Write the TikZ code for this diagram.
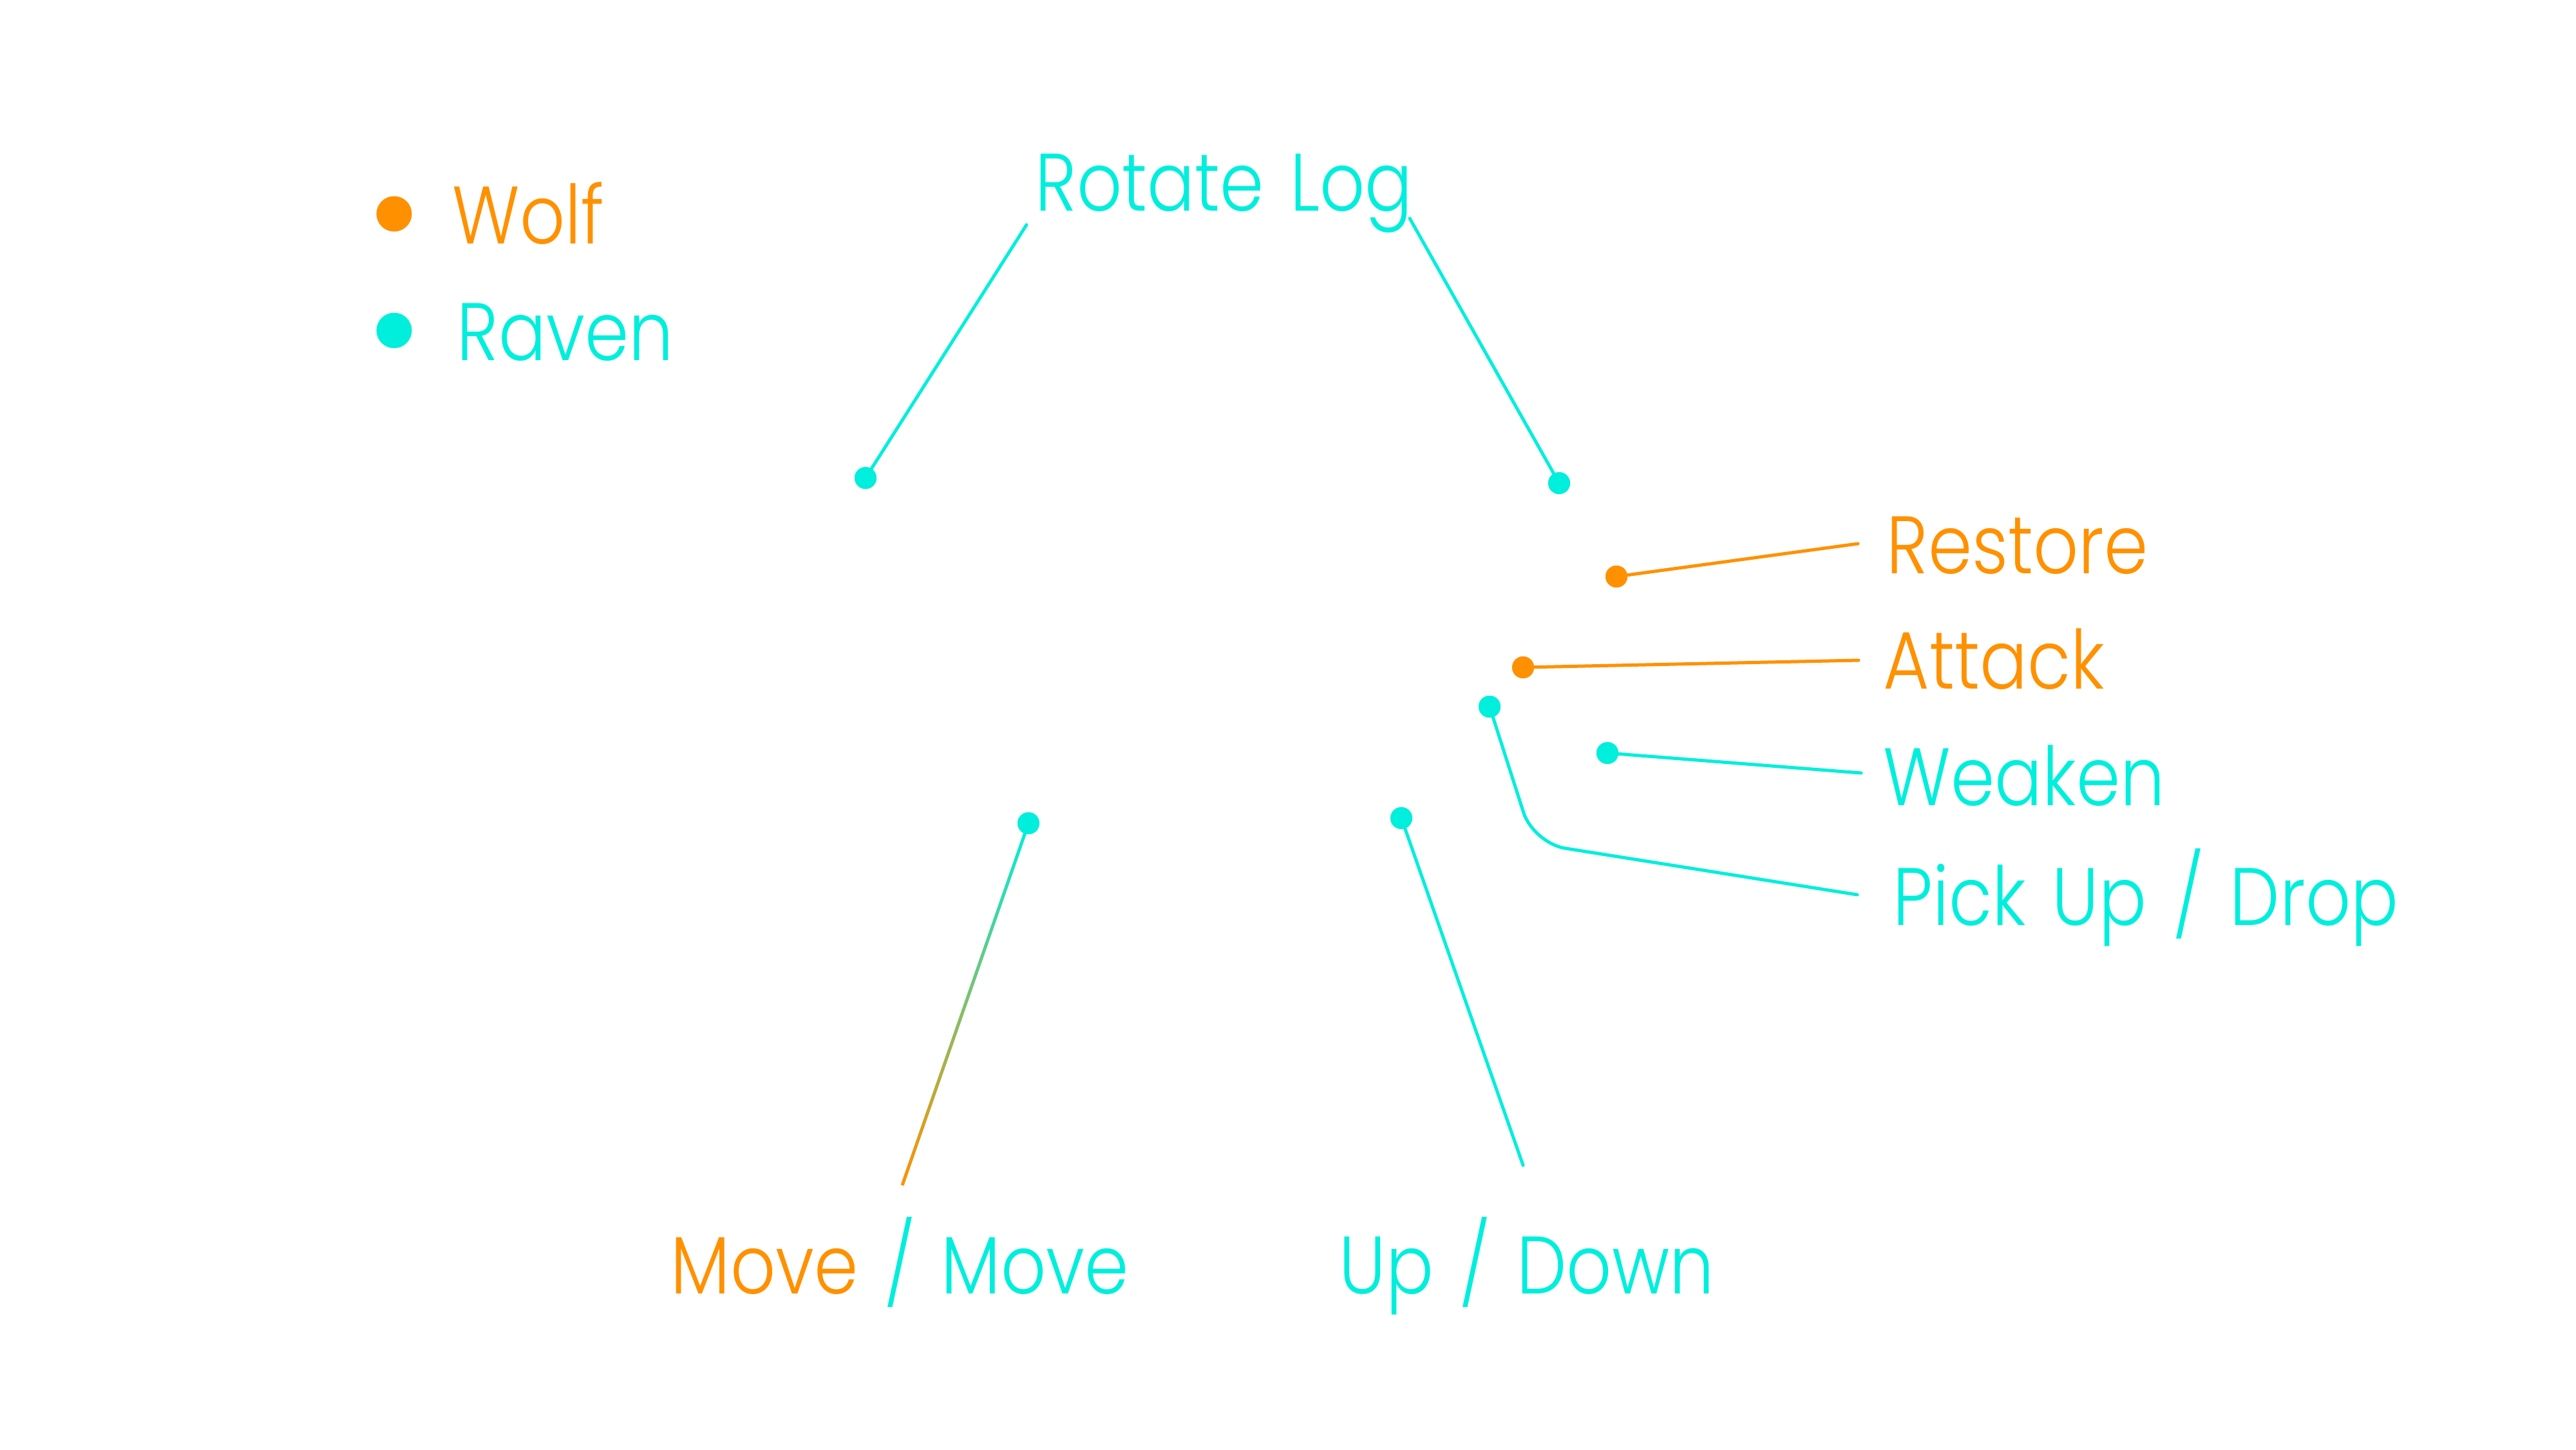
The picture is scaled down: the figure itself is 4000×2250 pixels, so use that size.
\documentclass[tikz,border=0pt]{standalone}
\usepackage{fontspec}
\setmainfont{Poppins}[UprightFont=* Light, WordSpace=1.35]
\usetikzlibrary{calc}
\definecolor{wolfc}{HTML}{FF9100}
\definecolor{ravenc}{HTML}{00EEDC}
\newcommand{\lbltxt}[1]{\scalebox{0.866}[1]{#1}}
\tikzset{
  lbl/.style={anchor=base west, inner sep=0pt, font=\fontsize{36}{38}\selectfont},
  dot/.style={circle, inner sep=0pt, minimum size=0.34cm},
  bigdot/.style={circle, inner sep=0pt, minimum size=0.55cm},
  conn/.style={line width=0.05cm, line cap=round},
}
\begin{document}
\begin{tikzpicture}[x=0.01cm, y=-0.01cm]
\useasboundingbox[fill=white] (0,0) rectangle (4000,2250);
% legend
\node[bigdot, fill=wolfc] (lw) at (612,332) {};
\node[lbl, text=wolfc] (tw) at (702,378) {\lbltxt{Wolf}};
\node[bigdot, fill=ravenc] (lr) at (612,513) {};
\node[lbl, text=ravenc] (tr) at (709,559) {\lbltxt{Raven}};
% labels
\node[lbl, text=ravenc] (rot) at (1607,327) {\lbltxt{Rotate Log}};
\node[lbl, text=wolfc] (res) at (2929,890) {\lbltxt{Restore}};
\node[lbl, text=wolfc] (att) at (2924,1069) {\lbltxt{Attack}};
\node[lbl, text=ravenc] (wea) at (2924,1250) {\lbltxt{Weaken}};
\node[lbl, text=ravenc] (pick) at (2939,1436) {\lbltxt{Pick Up / Drop}};
\node[lbl] (mv) at (1041,2008) {\lbltxt{\textcolor{wolfc}{Move} \textcolor{ravenc}{/ Move}}};
\node[lbl, text=ravenc] (ud) at (2079,2008) {\lbltxt{Up / Down}};
% dots
\node[dot, fill=ravenc] (d1) at (1344,742) {};
\node[dot, fill=ravenc] (d2) at (2421,750) {};
\node[dot, fill=wolfc] (d3) at (2510,895) {};
\node[dot, fill=wolfc] (d4) at (2365,1036) {};
\node[dot, fill=ravenc] (d5) at (2496,1169) {};
\node[dot, fill=ravenc] (d6) at (2313,1097) {};
\node[dot, fill=ravenc] (d7) at (1597,1278) {};
\node[dot, fill=ravenc] (d8) at (2176,1270) {};
% connector ends
\coordinate (e1) at (1594,349);
\coordinate (e2) at (2189,339);
\coordinate (e3) at (2885,844);
\coordinate (e4) at (2886,1025);
\coordinate (e5) at (2890,1200);
\coordinate (e6) at (2884,1389);
\coordinate (k6) at (2381,1309);
\coordinate (e7) at (1401,1840);
\coordinate (e8) at (2365,1809);
% connectors
\draw[conn, ravenc] (e1) -- (d1.center);
\draw[conn, ravenc] (e2) -- (d2.center);
\draw[conn, wolfc] (e3) -- (d3.center);
\draw[conn, wolfc] (e4) -- (d4.center);
\draw[conn, ravenc] (e5) -- (d5.center);
\draw[conn, ravenc, rounded corners=0.5cm] (d6.center) -- (k6) -- (e6);
\draw[conn, ravenc] (e8) -- (d8.center);
\shade[top color=ravenc, bottom color=wolfc]
  ($(e7)!0.025cm!90:(d7.center)$) -- ($(d7.center)!0.025cm!-90:(e7)$)
  -- ($(d7.center)!0.025cm!90:(e7)$) -- ($(e7)!0.025cm!-90:(d7.center)$) -- cycle;
% redraw dots on top
\node[dot, fill=ravenc] at (d1) {};
\node[dot, fill=ravenc] at (d2) {};
\node[dot, fill=wolfc] at (d3) {};
\node[dot, fill=wolfc] at (d4) {};
\node[dot, fill=ravenc] at (d5) {};
\node[dot, fill=ravenc] at (d6) {};
\node[dot, fill=ravenc] at (d7) {};
\node[dot, fill=ravenc] at (d8) {};
\end{tikzpicture}
\end{document}
